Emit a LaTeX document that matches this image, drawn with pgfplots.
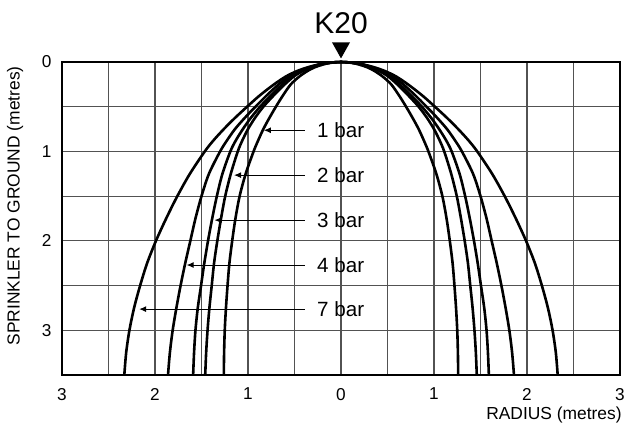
\documentclass[border=0pt]{standalone}
\usepackage{fontspec}
\setmainfont{Liberation Sans}
\usepackage{pgfplots}
\pgfplotsset{compat=1.18}
\usetikzlibrary{arrows.meta}
\pgfplotsset{spray/.style={black, line width=1.3pt, smooth, mark=none}}

\begin{document}
\begin{tikzpicture}
\useasboundingbox (0,0) rectangle (315.5pt,212.5pt);
\begin{axis}[
  at={(31pt,25pt)}, anchor=south west,
  scale only axis, width=279pt, height=156.5pt,
  xmin=-3, xmax=3, ymin=0, ymax=3.5, y dir=reverse,
  xtick={-3,...,3}, xticklabels={3,2,1,0,1,2,3},
  ytick={0,1,2,3},
  minor x tick num=1, minor y tick num=1,
  grid=both,
  grid style={black!68, line width=0.55pt},
  major tick length=0pt, minor tick length=0pt,
  axis line style={black, line width=0.7pt},
  tick label style={font=\fontsize{8.6}{10}\selectfont},
  xticklabel style={yshift=-3pt},
  yticklabel style={xshift=-1.7pt},
  /pgf/number format/assume math mode=true,
  clip=false,
  xlabel={RADIUS (metres)},
  ylabel={SPRINKLER TO GROUND (metres)},
  label style={font=\fontsize{8.7}{10}\selectfont},
  xlabel style={at={(axis description cs:1.0036,-0.128)}, anchor=east, inner sep=0pt},
  ylabel style={at={(axis description cs:-0.0842,0.54)}, anchor=center, inner sep=0pt},
]
% 7 bar
\addplot[spray] coordinates {
(-2.33,3.5) (-2.31,3.25) (-2.275,3) (-2.225,2.75) (-2.16,2.5) (-2.085,2.25) (-1.99,2) (-1.88,1.75) (-1.76,1.5) (-1.625,1.25) (-1.465,1) (-1.37,0.875) (-1.26,0.75) (-1.14,0.625) (-1.01,0.5) (-0.875,0.375) (-0.72,0.25) (-0.59,0.16) (-0.47,0.1) (-0.36,0.06) (-0.25,0.03) (-0.15,0.01) (0,0)
(0.15,0.01) (0.25,0.03) (0.36,0.06) (0.47,0.1) (0.59,0.16) (0.72,0.25) (0.875,0.375) (1.01,0.5) (1.14,0.625) (1.26,0.75) (1.37,0.875) (1.465,1) (1.625,1.25) (1.76,1.5) (1.88,1.75) (1.99,2) (2.085,2.25) (2.16,2.5) (2.225,2.75) (2.275,3) (2.31,3.25) (2.33,3.5)
};
% 4 bar
\addplot[spray] coordinates {
(-1.86,3.5) (-1.84,3.25) (-1.81,3) (-1.77,2.75) (-1.725,2.5) (-1.675,2.25) (-1.62,2) (-1.565,1.75) (-1.5,1.5) (-1.42,1.25) (-1.3,1) (-1.225,0.875) (-1.14,0.75) (-1.035,0.625) (-0.92,0.5) (-0.8,0.375) (-0.67,0.25) (-0.555,0.16) (-0.445,0.1) (-0.345,0.06) (-0.24,0.03) (-0.145,0.01) (0,0)
(0.145,0.01) (0.24,0.03) (0.345,0.06) (0.445,0.1) (0.555,0.16) (0.67,0.25) (0.8,0.375) (0.92,0.5) (1.035,0.625) (1.14,0.75) (1.225,0.875) (1.3,1) (1.42,1.25) (1.5,1.5) (1.565,1.75) (1.62,2) (1.675,2.25) (1.725,2.5) (1.77,2.75) (1.81,3) (1.84,3.25) (1.86,3.5)
};
% 3 bar
\addplot[spray] coordinates {
(-1.59,3.5) (-1.58,3.25) (-1.565,3) (-1.54,2.75) (-1.505,2.5) (-1.47,2.25) (-1.43,2) (-1.385,1.75) (-1.335,1.5) (-1.275,1.25) (-1.19,1) (-1.13,0.875) (-1.055,0.75) (-0.97,0.625) (-0.87,0.5) (-0.755,0.375) (-0.63,0.25) (-0.525,0.16) (-0.425,0.1) (-0.33,0.06) (-0.235,0.03) (-0.14,0.01) (0,0)
(0.14,0.01) (0.235,0.03) (0.33,0.06) (0.425,0.1) (0.525,0.16) (0.63,0.25) (0.755,0.375) (0.87,0.5) (0.97,0.625) (1.055,0.75) (1.13,0.875) (1.19,1) (1.275,1.25) (1.335,1.5) (1.385,1.75) (1.43,2) (1.47,2.25) (1.505,2.5) (1.54,2.75) (1.565,3) (1.58,3.25) (1.59,3.5)
};
% 2 bar
\addplot[spray] coordinates {
(-1.46,3.5) (-1.45,3.25) (-1.435,3) (-1.415,2.75) (-1.39,2.5) (-1.365,2.25) (-1.33,2) (-1.29,1.75) (-1.245,1.5) (-1.185,1.25) (-1.11,1) (-1.06,0.875) (-1.0,0.75) (-0.925,0.625) (-0.835,0.5) (-0.725,0.375) (-0.605,0.25) (-0.505,0.16) (-0.41,0.1) (-0.32,0.06) (-0.23,0.03) (-0.135,0.01) (0,0)
(0.135,0.01) (0.23,0.03) (0.32,0.06) (0.41,0.1) (0.505,0.16) (0.605,0.25) (0.725,0.375) (0.835,0.5) (0.925,0.625) (1.0,0.75) (1.06,0.875) (1.11,1) (1.185,1.25) (1.245,1.5) (1.29,1.75) (1.33,2) (1.365,2.25) (1.39,2.5) (1.415,2.75) (1.435,3) (1.45,3.25) (1.46,3.5)
};
% 1 bar
\addplot[spray] coordinates {
(-1.26,3.5) (-1.257,3.25) (-1.25,3) (-1.237,2.75) (-1.22,2.5) (-1.2,2.25) (-1.17,2) (-1.135,1.75) (-1.09,1.5) (-1.025,1.25) (-0.94,1) (-0.89,0.875) (-0.835,0.75) (-0.77,0.625) (-0.7,0.5) (-0.625,0.375) (-0.54,0.25) (-0.445,0.16) (-0.36,0.1) (-0.285,0.06) (-0.2,0.03) (-0.12,0.01) (0,0)
(0.12,0.01) (0.2,0.03) (0.285,0.06) (0.36,0.1) (0.445,0.16) (0.54,0.25) (0.625,0.375) (0.7,0.5) (0.77,0.625) (0.835,0.75) (0.89,0.875) (0.94,1) (1.025,1.25) (1.09,1.5) (1.135,1.75) (1.17,2) (1.2,2.25) (1.22,2.5) (1.237,2.75) (1.25,3) (1.257,3.25) (1.26,3.5)
};
% labels with arrows
\begin{scope}[every node/.style={anchor=west, inner sep=0pt, font=\fontsize{10.3}{12}\selectfont}]
\draw[-{Latex[length=3.5pt,width=3pt]}, line width=0.5pt] (axis cs:-0.39,0.763) -- (axis cs:-0.83,0.763);
\node at (axis cs:-0.26,0.763) {1 bar};
\draw[-{Latex[length=3.5pt,width=3pt]}, line width=0.5pt] (axis cs:-0.39,1.265) -- (axis cs:-1.15,1.265);
\node at (axis cs:-0.26,1.265) {2 bar};
\draw[-{Latex[length=3.5pt,width=3pt]}, line width=0.5pt] (axis cs:-0.39,1.768) -- (axis cs:-1.36,1.768);
\node at (axis cs:-0.26,1.768) {3 bar};
\draw[-{Latex[length=3.5pt,width=3pt]}, line width=0.5pt] (axis cs:-0.39,2.27) -- (axis cs:-1.66,2.27);
\node at (axis cs:-0.26,2.27) {4 bar};
\draw[-{Latex[length=3.5pt,width=3pt]}, line width=0.5pt] (axis cs:-0.39,2.763) -- (axis cs:-2.17,2.763);
\node at (axis cs:-0.26,2.763) {7 bar};
\end{scope}
% sprinkler marker and title
\fill (axis cs:-0.097,-0.22) -- (axis cs:0.097,-0.22) -- (axis cs:0,-0.04) -- cycle;
\node[anchor=base, inner sep=0pt, font=\fontsize{15}{18}\selectfont] at (axis cs:0,-0.32) {K20};
\end{axis}
\end{tikzpicture}
\end{document}
